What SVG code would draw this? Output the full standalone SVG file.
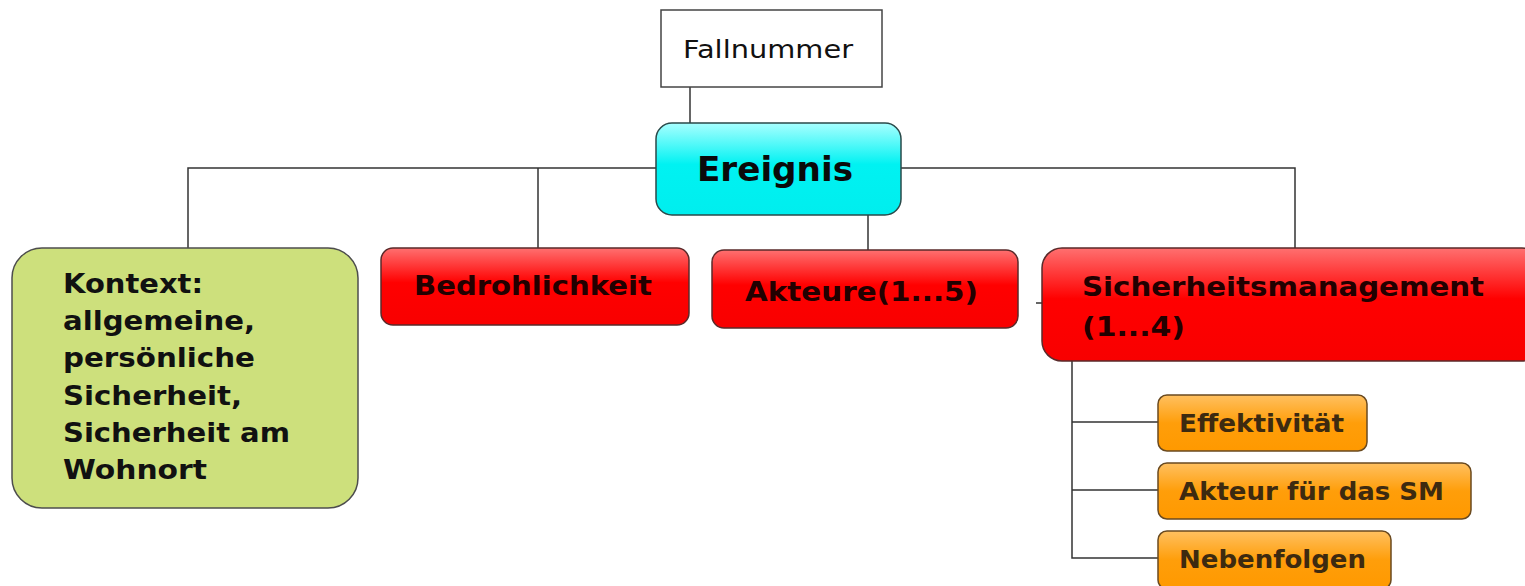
<svg xmlns="http://www.w3.org/2000/svg" width="1525" height="586" viewBox="0 0 1525 586">
<defs>
<linearGradient id="gCyan" x1="0" y1="0" x2="0" y2="1"><stop offset="0" stop-color="#a8ffff"/><stop offset="0.45" stop-color="#00f2f2"/><stop offset="1" stop-color="#00eeee"/></linearGradient>
<linearGradient id="gRed" x1="0" y1="0" x2="0" y2="1"><stop offset="0" stop-color="#ff7070"/><stop offset="0.45" stop-color="#ff0000"/><stop offset="1" stop-color="#f80000"/></linearGradient>
<linearGradient id="gOrange" x1="0" y1="0" x2="0" y2="1"><stop offset="0" stop-color="#ffc060"/><stop offset="0.5" stop-color="#ff9e0a"/><stop offset="1" stop-color="#ff9900"/></linearGradient>
</defs>
<style>
.conn{fill:none;stroke:#333;stroke-width:1.5}
.t{font-family:"DejaVu Sans","Verdana",sans-serif;font-weight:bold;font-size:27px}
.red rect{fill:url(#gRed);stroke:#5a2a2a;stroke-width:1.5}
.red text{fill:#220000}
.org rect{fill:url(#gOrange);stroke:#6a4a20;stroke-width:1.5}
.org text{fill:#3d2a10}
</style>
<rect width="1525" height="586" fill="#ffffff"/>
<g id="connectors">
<path class="conn" d="M690 87V123"/>
<path class="conn" d="M656 168H188V248M538 168V248"/>
<path class="conn" d="M901 168H1295V248"/>
<path class="conn" d="M868 215V250"/>
<path class="conn" d="M1036 303H1042"/>
<path class="conn" d="M1072 361V558H1158M1072 422H1158M1072 490H1158"/>
</g>
<g id="fallnummer">
<rect x="661" y="10" width="221" height="77" fill="#fff" stroke="#444" stroke-width="1.5"/>
<text x="683" y="58" font-family="DejaVu Sans, Verdana, sans-serif" font-size="25" fill="#111" textLength="170" lengthAdjust="spacingAndGlyphs">Fallnummer</text>
</g>
<g id="ereignis">
<rect x="656" y="123" width="245" height="92" rx="16" fill="url(#gCyan)" stroke="#2a4a4a" stroke-width="1.5"/>
<text class="t" x="697" y="181" fill="#0a0a0a" textLength="156" lengthAdjust="spacingAndGlyphs" style="font-size:34px">Ereignis</text>
</g>
<g id="kontext">
<rect x="12" y="248" width="346" height="260" rx="30" fill="#cde07c" stroke="#4d4d4d" stroke-width="1.5"/>
<g class="t" fill="#111">
<text x="63" y="293" textLength="140" lengthAdjust="spacingAndGlyphs">Kontext:</text>
<text x="63" y="330" textLength="192" lengthAdjust="spacingAndGlyphs">allgemeine,</text>
<text x="63" y="367" textLength="192" lengthAdjust="spacingAndGlyphs">persönliche</text>
<text x="63" y="405" textLength="179" lengthAdjust="spacingAndGlyphs">Sicherheit,</text>
<text x="63" y="442" textLength="227" lengthAdjust="spacingAndGlyphs">Sicherheit am</text>
<text x="63" y="479" textLength="144" lengthAdjust="spacingAndGlyphs">Wohnort</text>
</g>
</g>
<g id="bedrohlichkeit" class="red">
<rect x="381" y="248" width="308" height="77" rx="12"/>
<text class="t" x="414" y="295" textLength="238" lengthAdjust="spacingAndGlyphs">Bedrohlichkeit</text>
</g>
<g id="akteure" class="red">
<rect x="712" y="250" width="306" height="78" rx="12"/>
<text class="t" x="745" y="301" textLength="233" lengthAdjust="spacingAndGlyphs">Akteure(1...5)</text>
</g>
<g id="sicherheitsmanagement" class="red">
<rect x="1042" y="248" width="500" height="113" rx="20"/>
<text class="t" x="1082" y="296" textLength="402" lengthAdjust="spacingAndGlyphs">Sicherheitsmanagement</text>
<text class="t" x="1082" y="336" textLength="103" lengthAdjust="spacingAndGlyphs">(1...4)</text>
</g>
<g id="effektivitaet" class="org">
<rect x="1158" y="395" width="209" height="56" rx="9"/>
<text class="t" x="1179" y="432" style="font-size:25px" textLength="165" lengthAdjust="spacingAndGlyphs">Effektivität</text>
</g>
<g id="akteur-sm" class="org">
<rect x="1158" y="463" width="313" height="56" rx="9"/>
<text class="t" x="1179" y="500" style="font-size:25px" textLength="265" lengthAdjust="spacingAndGlyphs">Akteur für das SM</text>
</g>
<g id="nebenfolgen" class="org">
<rect x="1158" y="531" width="233" height="58" rx="9"/>
<text class="t" x="1179" y="568" style="font-size:25px" textLength="187" lengthAdjust="spacingAndGlyphs">Nebenfolgen</text>
</g>
</svg>
